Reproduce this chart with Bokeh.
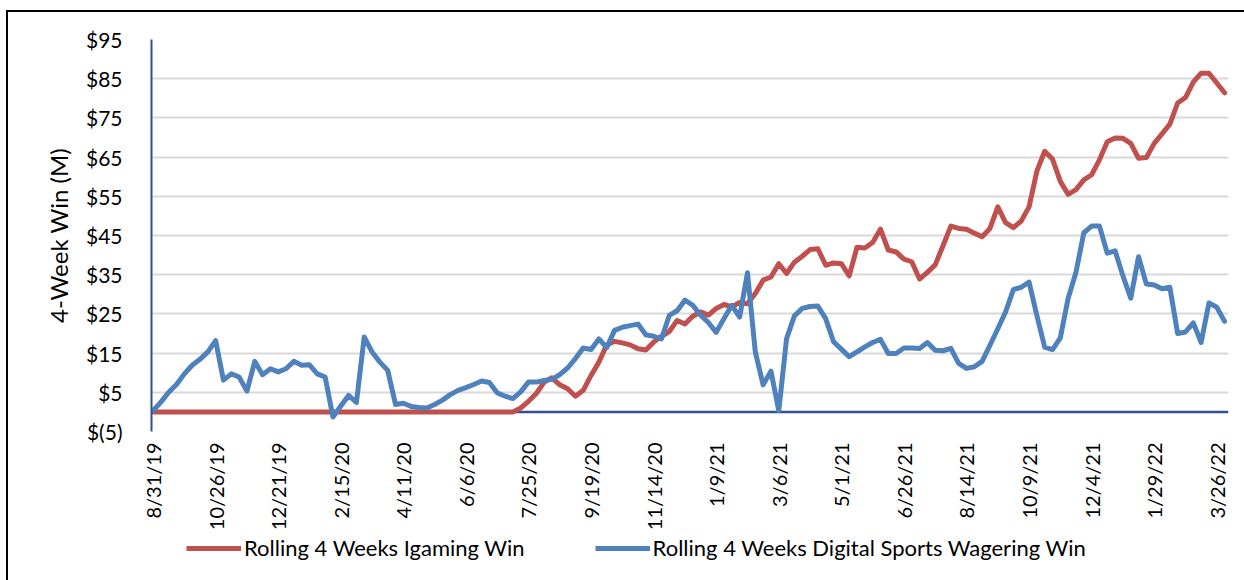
from bokeh.plotting import figure
from bokeh.models import Range1d, FixedTicker, Span, Legend, LegendItem
from bokeh.layouts import column
from bokeh.embed import file_html
from bokeh.resources import INLINE
import math

# ---- data -------------------------------------------------------------
igaming = [0.0] * 47 + [
    1.0, 2.7, 4.7, 7.6, 8.7, 6.9, 5.9, 4.0, 5.5, 9.3,
    12.7, 17.1, 18.0, 17.6, 17.1, 16.1, 15.8, 17.8, 19.3, 20.5,
    23.3, 22.4, 24.4, 25.5, 24.7, 26.4, 27.4, 26.8, 27.9, 27.6,
    30.2, 33.6, 34.4, 37.8, 35.3, 38.2, 39.7, 41.4, 41.6, 37.4,
    38.0, 37.8, 34.7, 42.0, 41.8, 43.2, 46.6, 41.3, 40.8, 39.0,
    38.3, 33.9, 35.6, 37.5, 42.4, 47.4, 46.8, 46.6, 45.6, 44.7,
    46.8, 52.3, 48.3, 47.0, 48.7, 52.3, 61.4, 66.5, 64.5, 58.8,
    55.5, 56.7, 59.2, 60.5, 64.3, 68.9, 69.9, 69.8, 68.5, 64.7,
    64.9, 68.5, 70.9, 73.4, 78.8, 80.2, 84.1, 86.4, 86.4, 83.9,
    81.4,
]

sports = [
    0.3, 2.5, 5.0, 7.0, 9.7, 11.9, 13.4, 15.3, 18.2, 8.1,
    9.7, 8.9, 5.3, 12.9, 9.5, 11.0, 10.2, 11.0, 12.9, 11.9,
    12.0, 9.7, 8.9, -1.3, 1.5, 4.2, 2.4, 19.1, 15.3, 12.7,
    10.6, 1.9, 2.2, 1.4, 1.1, 1.0, 1.9, 3.0, 4.4, 5.5,
    6.2, 7.0, 7.9, 7.5, 4.9, 4.0, 3.4, 5.1, 7.6, 7.6,
    8.0, 8.3, 9.5, 11.2, 13.6, 16.3, 15.9, 18.6, 16.4, 20.8,
    21.6, 22.0, 22.4, 19.7, 19.3, 18.6, 24.6, 25.8, 28.5, 27.2,
    24.7, 22.8, 20.3, 23.8, 27.2, 24.2, 35.5, 15.3, 6.9, 10.4,
    0.3, 18.7, 24.5, 26.4, 26.9, 27.0, 23.8, 17.9, 16.0, 14.1,
    15.3, 16.6, 17.7, 18.5, 14.9, 14.9, 16.3, 16.3, 16.2, 17.7,
    15.7, 15.6, 16.2, 12.4, 11.1, 11.5, 12.9, 17.0, 21.2, 25.5,
    31.2, 31.8, 33.1, 24.6, 16.5, 15.9, 18.9, 29.0, 35.6, 45.7,
    47.4, 47.4, 40.5, 41.1, 34.7, 29.0, 39.6, 32.6, 32.4, 31.4,
    31.8, 20.0, 20.4, 22.7, 17.7, 27.8, 26.7, 23.1,
]

week_index = list(range(len(sports)))

x_tick_labels = ["8/31/19", "10/26/19", "12/21/19", "2/15/20", "4/11/20", "6/6/20",
                 "7/25/20", "9/19/20", "11/14/20", "1/9/21", "3/6/21", "5/1/21",
                 "6/26/21", "8/14/21", "10/9/21", "12/4/21", "1/29/22", "3/26/22"]
x_tick_positions = [8 * k for k in range(len(x_tick_labels))]

y_tick_values = [-5, 5, 15, 25, 35, 45, 55, 65, 75, 85, 95]
y_tick_labels = ["$(5)", "$5", "$15", "$25", "$35", "$45", "$55", "$65", "$75", "$85", "$95"]

series_names = ["Rolling 4 Weeks Igaming Win", "Rolling 4 Weeks Digital Sports Wagering Win"]

FONT = "Lato"
RED = "#C0504D"
BLUE = "#4F81BD"
AXIS = "#2F528F"

p = figure(width=1236, height=521, output_backend="svg", toolbar_location=None,
           x_range=Range1d(-0.2, 137.5), y_range=Range1d(-5, 95),
           min_border_left=143, min_border_right=16, min_border_top=27,
           min_border_bottom=100)
p.outline_line_color = None
p.background_fill_color = "white"
p.border_fill_color = "white"

# axes
p.xaxis.ticker = FixedTicker(ticks=x_tick_positions)
p.xaxis.major_label_overrides = {pos: lab for pos, lab in zip(x_tick_positions, x_tick_labels)}
p.xaxis.major_label_orientation = math.pi / 2
p.xaxis.axis_line_color = None
p.xaxis.major_tick_line_color = None
p.xaxis.minor_tick_line_color = None
p.xaxis.major_label_standoff = 5
p.xaxis.major_label_text_font = FONT
p.xaxis.major_label_text_font_size = "20px"
p.xaxis.major_label_text_color = "black"
p.xgrid.visible = False

p.yaxis.ticker = FixedTicker(ticks=y_tick_values)
p.yaxis.major_label_overrides = {v: lab for v, lab in zip(y_tick_values, y_tick_labels)}
p.yaxis.axis_line_color = AXIS
p.yaxis.axis_line_width = 2
p.yaxis.major_tick_line_color = None
p.yaxis.minor_tick_line_color = None
p.yaxis.major_label_standoff = 23
p.yaxis.major_label_text_font = FONT
p.yaxis.major_label_text_font_size = "21px"
p.yaxis.major_label_text_color = "black"
p.yaxis.axis_label = "4-Week Win (M)"
p.yaxis.axis_label_text_font = FONT
p.yaxis.axis_label_text_font_size = "24px"
p.yaxis.axis_label_text_font_style = "normal"
p.yaxis.axis_label_text_color = "black"
p.yaxis.axis_label_standoff = 10
p.ygrid.grid_line_color = "#D9D9D9"
p.ygrid.grid_line_width = 2

zero = Span(location=0, dimension="width", line_color=AXIS, line_width=2.5, level="underlay")
p.add_layout(zero)

p.line(week_index, igaming, line_color=RED, line_width=5, line_join="round", line_cap="round")
p.line(week_index, sports, line_color=BLUE, line_width=5, line_join="round", line_cap="round")

# legend strip below the chart: same series, drawn outside this strip's (empty) view,
# only so that the legend can show their line keys
leg = figure(width=1236, height=47, output_backend="svg", toolbar_location=None,
             x_range=Range1d(-0.2, 137.5), y_range=Range1d(1000, 1001),
             min_border_left=143, min_border_right=16, min_border_top=0, min_border_bottom=0)
leg.outline_line_color = None
leg.axis.visible = False
leg.grid.visible = False
k1 = leg.line(week_index, igaming, line_color=RED, line_width=5)
k2 = leg.line(week_index, sports, line_color=BLUE, line_width=5)
legend = Legend(items=[LegendItem(label=series_names[0], renderers=[k1]),
                       LegendItem(label=series_names[1], renderers=[k2])],
                orientation="horizontal", location=(35, 19),
                label_text_font=FONT, label_text_font_size="22px", label_text_color="black",
                glyph_width=55, glyph_height=20, label_standoff=3, spacing=70,
                border_line_color=None, background_fill_alpha=0, padding=4, margin=0)
leg.add_layout(legend, "center")

page = column(p, leg, spacing=0,
              styles={"border-left": "2px solid black", "border-top": "2px solid black",
                      "margin-left": "6px", "margin-top": "10px"})

open("out.html", "w").write(file_html(page, INLINE))
